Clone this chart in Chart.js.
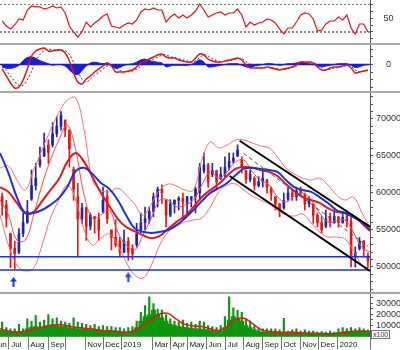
<!DOCTYPE html>
<html>
<head>
<meta charset="utf-8">
<script src="https://cdn.jsdelivr.net/npm/chart.js@4.4.1/dist/chart.umd.min.js"></script>
<style>
  html, body { margin: 0; padding: 0; background: #fff; }
  #wrap { position: relative; width: 400px; height: 350px; overflow: hidden; font-family: "Liberation Sans", Arial, sans-serif; }
  .panel { position: absolute; left: 0; }
  .sep { position: absolute; left: 0; width: 400px; height: 2px; background: #a8a8a8; }
  #unit { position: absolute; left: 371px; top: 330px; font-size: 7px; line-height: 7px; border: 1px solid #777; padding: 0 1px; color: #333; background: #fff; }
</style>
</head>
<body>
<div id="wrap">
  <canvas id="rsi-chart" class="panel" style="top:0px" width="400" height="43"></canvas>
  <div class="sep" style="top:43px"></div>
  <canvas id="macd-chart" class="panel" style="top:45px" width="400" height="46"></canvas>
  <div class="sep" style="top:91px"></div>
  <canvas id="price-chart" class="panel" style="top:93px" width="400" height="199"></canvas>
  <div class="sep" style="top:292px"></div>
  <canvas id="volume-chart" class="panel" style="top:294px" width="400" height="56"></canvas>
  <div id="unit">x100</div>
</div>
<script>
// one slot per week, Jun 2018 -> Feb 2020
const weekMin = 0;
const weekMax = 88;

const candleOpen = [59500, 58400, 54500, 52500, 52000, 54500, 56000, 59200, 61000, 63800,
  65000, 66500, 66500, 68000, 69000, 69800, 68500, 63200, 59500, 56500,
  58000, 55500, 56800, 56500, 57500, 59500, 55000, 54000, 53500, 52000,
  53500, 52500, 53000, 55000, 56000, 56500, 57500, 59500, 60500, 59000,
  57000, 58500, 59000, 59300, 58500, 59200, 59500, 60000, 63000, 63800,
  62500, 63000, 62000, 62500, 63500, 64300, 65000, 64500, 63000, 61800,
  62000, 61000, 61500, 61800, 60600, 59500, 58500, 58000, 59200, 60000,
  59500, 60500, 59800, 58500, 58500, 57000, 56000, 55500, 56800, 56000,
  56800, 56000, 56800, 56200, 51500, 52500, 53500, 51500];
const candleHigh = [60000, 59000, 54600, 53500, 55200, 57300, 59000, 63100, 64000, 66200,
  68100, 67200, 69500, 70300, 71000, 69900, 68500, 63500, 61300, 58600,
  58100, 57300, 56800, 57300, 60800, 60400, 55000, 56400, 54000, 55000,
  54000, 53000, 55900, 57300, 58100, 58100, 60000, 60800, 61100, 59100,
  59100, 59100, 59500, 60000, 59500, 59500, 60800, 64000, 65400, 64000,
  64000, 63100, 63500, 64900, 65400, 65400, 66500, 64900, 63100, 63100,
  62200, 62200, 63100, 61800, 60800, 59500, 58600, 60000, 60800, 60400,
  60800, 60800, 60000, 59500, 58600, 57300, 56800, 57700, 57300, 57700,
  56800, 57300, 57300, 56800, 52700, 54000, 53600, 51900];
const candleLow = [57000, 55400, 49900, 49700, 51800, 54100, 55900, 59000, 60400, 63500,
  64900, 64000, 66200, 67600, 68500, 67600, 63500, 59000, 51350, 55900,
  53600, 55000, 54600, 53600, 57300, 55900, 52300, 52700, 51350, 51900,
  50900, 51000, 52700, 54600, 55000, 55900, 56800, 58100, 58600, 55400,
  56800, 57300, 57700, 56800, 57300, 58100, 57300, 59000, 62700, 60800,
  62200, 60400, 61800, 62200, 63100, 64000, 64900, 62700, 61300, 61500,
  60400, 60800, 60800, 60000, 59000, 57700, 56800, 57800, 59000, 59000,
  59000, 59500, 57700, 58100, 55900, 55400, 54600, 55300, 55400, 55900,
  55400, 55900, 55400, 50000, 50000, 52300, 51350, 49900];
const candleClose = [58400, 56600, 52500, 51800, 54500, 56000, 57500, 61000, 62000, 64500,
  66000, 65500, 68000, 69000, 70500, 68500, 66000, 60500, 56500, 58000,
  55500, 57000, 56500, 55000, 59000, 56500, 54000, 53000, 52000, 53500,
  52000, 51800, 54500, 56000, 56500, 57500, 59500, 60500, 60000, 57000,
  58500, 59000, 59300, 58800, 59500, 59500, 60500, 63500, 63800, 61500,
  63000, 61500, 62500, 63500, 64300, 64700, 65800, 63500, 61800, 62500,
  61000, 61500, 62000, 60800, 60000, 58500, 57500, 59000, 60000, 59500,
  60300, 60000, 58500, 59000, 57000, 56000, 55000, 56500, 56000, 56800,
  56000, 56700, 56200, 51500, 52000, 53500, 52500, 50800];

// averages and bands, one value every two weeks
const maSlow = [65400, 62700, 59450, 57300, 57300, 57700, 58400, 59300, 60800, 62950,
  63400, 62550, 61350, 60550, 59050, 57000, 55250, 54750, 54600, 54750,
  55000, 55650, 56600, 57700, 58900, 60000, 60650, 61350, 62400, 63250,
  63400, 63250, 63100, 62850, 61750, 60800, 60400, 60150, 59450, 58650,
  57700, 57300, 56750, 56100, 55000];
const maMid = [60800, 60150, 58650, 57300, 57450, 58900, 60400, 61900, 64200, 65400,
  64200, 62150, 60000, 58250, 56500, 55400, 54850, 54300, 53900, 54200,
  55150, 56100, 56900, 58100, 59450, 60400, 61200, 62300, 63250, 63500,
  63400, 63100, 62850, 62300, 61200, 60250, 59450, 59050, 58650, 57950,
  57450, 57300, 56900, 55950, 54850];
const maFast = [59050, 57030, 53650, 53650, 57030, 61080, 64460, 67160, 69180, 65810,
  59730, 56620, 57030, 57700, 54730, 52970, 52300, 54320, 56620, 59050,
  59050, 58110, 58380, 59050, 61080, 62840, 62020, 62840, 64190, 64460,
  62840, 61750, 61080, 59460, 58780, 59590, 60000, 59050, 57300, 56080,
  56220, 56350, 54730, 52700, 52030];
const bandUpper = [63380, 63650, 61750, 60400, 63110, 65810, 68510, 70810, 72560, 72830,
  68510, 61750, 60400, 60130, 60670, 59730, 58500, 57000, 58500, 60400,
  61210, 60940, 60400, 60400, 64460, 66890, 66080, 66480, 67160, 67160,
  66750, 66350, 66080, 64860, 63380, 62560, 62020, 61750, 62020, 61080,
  59730, 59050, 59460, 57430, 55270];
const bandLower = [57030, 52970, 50270, 49460, 49870, 52970, 56620, 59050, 61080, 59050,
  55000, 52970, 53920, 54460, 52970, 50680, 48920, 48510, 50270, 52970,
  54730, 55540, 56080, 56350, 56620, 58110, 60130, 61080, 61210, 60400,
  59590, 59050, 58510, 57700, 57030, 56890, 57160, 55940, 54730, 54050,
  54050, 53780, 52300, 50270, 49330];

const supportLevels = [51390, 49600];
const channelUpper = [{ x: 57.0, y: 67060 }, { x: 88, y: 55450 }];
const channelLower = [{ x: 54.6, y: 62300 }, { x: 88, y: 49480 }];
const channelMid = [{ x: 57.9, y: 65360 }, { x: 87.6, y: 52740 }];
const arrowMarks = [{ x: 3.2, y: 47970 }, { x: 30.5, y: 48580 }];

const rsiValues = [46.0, 38.7, 34.4, 40.2, 48.9, 47.5, 62.0, 67.8, 66.4, 66.4,
  63.5, 64.9, 67.8, 64.9, 66.4, 57.6, 38.7, 30.0, 22.7, 30.0,
  44.5, 37.3, 43.1, 47.5, 53.3, 56.2, 38.7, 37.3, 35.8, 40.2,
  43.1, 41.6, 47.5, 59.1, 63.5, 62.0, 64.9, 62.0, 62.0, 44.5,
  51.8, 56.2, 50.4, 54.7, 50.4, 54.7, 60.5, 70.7, 62.0, 51.8,
  54.7, 57.6, 59.1, 54.7, 57.6, 57.6, 63.5, 54.7, 37.3, 44.5,
  40.2, 43.1, 44.5, 48.9, 47.5, 43.1, 34.4, 27.1, 35.8, 35.8,
  44.5, 54.7, 57.6, 56.2, 48.9, 31.5, 32.9, 41.6, 46.0, 46.0,
  51.8, 47.5, 54.7, 35.8, 27.1, 41.6, 41.6, 30.0];
const rsiBounds = [70, 30];

const macdLine = [-580, -1490, -2400, -3050, -2920, -2010, -580, 1100, 1750, 2010,
  2140, 1750, 1750, 1880, 1880, 1490, 450, -1100, -2270, -2530,
  -1880, -1490, -970, -580, -190, 190, -190, -970, -970, -970,
  -840, -710, -320, 190, 450, 710, 970, 1230, 1360, 970,
  840, 840, 580, 450, 320, 320, 840, 1360, 1230, 710,
  450, 320, 320, 450, 580, 710, 840, 580, -60, -450,
  -450, -450, -450, -320, -450, -580, -710, -580, -450, -320,
  -60, 320, 320, 320, 190, -320, -710, -710, -450, -320,
  -320, -190, -60, -450, -1100, -970, -840, -710];
const macdSignal = [-300, -800, -1500, -2200, -2700, -2700, -2000, -900, 500, 1300,
  1800, 2000, 1900, 1850, 1850, 1800, 1300, 300, -900, -1900,
  -2300, -1900, -1400, -1000, -600, -200, 0, -400, -800, -950,
  -950, -850, -600, -200, 200, 450, 700, 950, 1200, 1250,
  1000, 900, 750, 600, 450, 350, 450, 900, 1250, 1100,
  750, 500, 380, 400, 480, 600, 750, 750, 400, 0,
  -300, -400, -450, -400, -400, -500, -600, -650, -550, -420,
  -200, 100, 250, 300, 250, 0, -400, -650, -600, -450,
  -350, -250, -150, -250, -700, -950, -900, -800];
const macdHist = [-300, -500, -500, -400, -100, 500, 900, 1000, 800, 500,
  300, 100, -100, 0, 0, -200, -700, -1200, -1300, -800,
  -200, 200, 300, 200, 100, 200, -200, -500, -400, -100,
  0, 100, 300, 600, 700, 500, 400, 300, 200, -300,
  -200, -100, -100, -100, -100, 0, 300, 600, 300, -300,
  -300, -200, -100, 0, 100, 100, 100, -100, -300, -400,
  -200, -100, 0, 100, 100, 0, -100, 0, 100, 100,
  200, 300, 200, 100, 0, -200, -300, -200, -100, 0,
  100, 100, 100, -100, -400, -300, -100, 0];

const volumeBase = [5500, 5000, 4500, 4000, 4000, 4500, 7000, 8500, 9000, 8000,
  9000, 10000, 10500, 10000, 9500, 9000, 8000, 7500, 7000, 7000,
  6500, 6000, 6500, 6000, 5500, 5500, 5000, 5000, 4500, 4000,
  4000, 4500, 8000, 14000, 18000, 20000, 24000, 20000, 17000, 14000,
  11000, 10000, 9000, 8500, 8000, 7500, 7000, 7000, 6500, 6000,
  5500, 5000, 5000, 8000, 15000, 18000, 16000, 14000, 10000, 8000,
  6000, 5000, 4000, 4000, 3500, 4500, 3500, 3500, 3500, 3000,
  3000, 3000, 3000, 3000, 2500, 2500, 2500, 2500, 2500, 3000,
  3500, 4000, 4500, 4500, 4000, 4500, 4500, 3500];
const volumePeak = [13000, 8000, 7000, 7000, 11000, 7000, 16000, 14000, 19000, 13000,
  15000, 20000, 16000, 17000, 14000, 13000, 12000, 17000, 13000, 12000,
  11000, 10000, 11000, 9000, 10000, 9000, 9000, 8000, 8000, 7000,
  8000, 9000, 14000, 22000, 28000, 36000, 30000, 25000, 24000, 20000,
  16000, 14000, 13000, 15000, 12000, 13000, 11000, 14000, 13000, 10000,
  9000, 8000, 10000, 18000, 36000, 26000, 24000, 22000, 16000, 14000,
  10000, 8000, 7000, 7000, 7000, 7000, 6000, 16500, 5000, 6000,
  7000, 5000, 6000, 5000, 5000, 4000, 4500, 4000, 5000, 4000,
  7000, 8000, 7000, 8000, 7000, 8000, 7000, 6000];
const volumeMA = [7000, 5000, 4000, 4800, 6500, 8500, 10000, 10800, 9800, 8400,
  7600, 6800, 5500, 5200, 4500, 3800, 5500, 10000, 15500, 20500,
  21000, 15500, 11000, 9500, 9000, 7000, 5500, 9000, 15500, 16500,
  12000, 6500, 4500, 3900, 3800, 3800, 3200, 3000, 2800, 2500,
  2600, 3800, 4800, 5000, 4500];

const monthTicks = [-2.0, 2.14, 6.67, 11.43, 15.5, 20.24, 24.52, 28.81, 36.19, 40.48,
  44.52, 49.05, 53.57, 57.86, 62.38, 66.9, 71.43, 75.71, 80.24, 88];
const monthLabels = ["Jun", "Jul", "Aug", "Sep", "", "Nov", "Dec", "2019", "Mar", "Apr",
  "May", "Jun", "Jul", "Aug", "Sep", "Oct", "Nov", "Dec", "2020", ""];

const rsiTicks = [20, 30, 40, 50, 60, 70];
const macdTicks = [-3000, -2000, -1000, 0, 1000, 2000];
const volumeTicks = [5000, 10000, 15000, 20000, 25000, 30000, 35000];
const priceTicks = [];
for (let v = 47000; v <= 73000; v += 1000) priceTicks.push(v);

Chart.defaults.font.family = '"Liberation Sans", Arial, sans-serif';
Chart.defaults.font.size = 9;

const upColor = "#2424a8";
const downColor = "#e01818";
const green = "#0c960c";

const weekly = (arr) => arr.map((v, i) => ({ x: i + 0.5, y: v }));
const everyTwoWeeks = (arr) => arr.map((v, k) => ({ x: k * 2, y: v }));
const flat = (v) => [{ x: weekMin, y: v }, { x: weekMax, y: v }];

function lineSet(points, color, width, extra) {
  return Object.assign(
    { type: "line", data: points, borderColor: color, borderWidth: width, pointRadius: 0, fill: false, tension: 0 },
    extra || {}
  );
}

function rightAxis(min, max, tickValues, labelValues, pad) {
  return {
    position: "right",
    min: min,
    max: max,
    afterBuildTicks: (s) => { s.ticks = tickValues.map((v) => ({ value: v })); },
    afterFit: (s) => { s.width = 30; s.paddingTop = 0; s.paddingBottom = 0; },
    ticks: {
      autoSkip: false,
      crossAlign: "center",
      padding: pad,
      color: "#333",
      callback: (v) => (labelValues.includes(v) ? String(v) : ""),
    },
    grid: { drawOnChartArea: false, tickLength: 3, color: "#555" },
    border: { display: true, color: "#555" },
  };
}

function hiddenX() {
  return { type: "linear", min: weekMin, max: weekMax, display: false, offset: false };
}

function baseOptions(yAxis, xAxis) {
  return {
    responsive: false,
    animation: false,
    events: [],
    layout: { padding: 0, autoPadding: false },
    plugins: { legend: { display: false }, tooltip: { enabled: false } },
    scales: { x: xAxis || hiddenX(), y: yAxis },
  };
}

// RSI
new Chart(document.getElementById("rsi-chart"), {
  type: "line",
  data: {
    datasets: [
      lineSet(weekly(rsiValues), "#e41414", 1.2, { order: 0 }),
      lineSet(flat(rsiBounds[0]), "#777", 1, { borderDash: [2, 2], order: 1 }),
      lineSet(flat(rsiBounds[1]), "#222", 1, { borderDash: [2, 2], order: 1 }),
    ],
  },
  options: baseOptions(rightAxis(14, 76.5, rsiTicks, [50], 10.5)),
});

// MACD
new Chart(document.getElementById("macd-chart"), {
  type: "line",
  data: {
    datasets: [
      lineSet(weekly(macdLine), "#e41414", 1.5, { tension: 0.3, order: 0 }),
      lineSet(weekly(macdSignal), "#333", 1, { borderDash: [2, 2], tension: 0.3, order: 1 }),
      lineSet(flat(0), "#1a1ae6", 1.5, { order: 2 }),
      lineSet(weekly(macdHist), "#1a1ae6", 1, { fill: "origin", backgroundColor: "#1a1ae6", tension: 0.3, order: 3 }),
    ],
  },
  options: baseOptions(rightAxis(-3440, 2530, macdTicks, [0], 13)),
});

// price
const candleColors = candleClose.map((c, i) => (c >= candleOpen[i] ? upColor : downColor));

const arrowIcon = document.createElement("canvas");
arrowIcon.width = 7;
arrowIcon.height = 10;
const arrowCtx = arrowIcon.getContext("2d");
arrowCtx.fillStyle = "#1a3ce6";
arrowCtx.beginPath();
arrowCtx.moveTo(3.5, 0);
arrowCtx.lineTo(7, 4.5);
arrowCtx.lineTo(0, 4.5);
arrowCtx.closePath();
arrowCtx.fill();
arrowCtx.fillRect(2.5, 4, 2, 6);

new Chart(document.getElementById("price-chart"), {
  type: "line",
  data: {
    datasets: [
      lineSet(channelUpper, "#000", 2, { order: 0 }),
      lineSet(channelLower, "#000", 2, { order: 0 }),
      lineSet(channelMid, "#555", 1, { borderDash: [4, 3], order: 0 }),
      lineSet(flat(supportLevels[0]), "#1a32e6", 1.5, { order: 0 }),
      lineSet(flat(supportLevels[1]), "#1a32e6", 1.5, { order: 0 }),
      lineSet(arrowMarks, "#1a3ce6", 0, { showLine: false, pointStyle: arrowIcon, pointRadius: 4, order: 0, clip: false }),
      lineSet(everyTwoWeeks(maSlow), "#1a32e6", 2, { tension: 0.4, order: 1 }),
      lineSet(everyTwoWeeks(maMid), "#e8141e", 2, { tension: 0.4, order: 1 }),
      lineSet(everyTwoWeeks(maFast), "#ff4a4a", 1, { tension: 0.4, order: 2 }),
      lineSet(everyTwoWeeks(bandUpper), "#ff6e6e", 1, { tension: 0.4, order: 2 }),
      lineSet(everyTwoWeeks(bandLower), "#ff6e6e", 1, { tension: 0.4, order: 2 }),
      {
        type: "bar",
        data: candleHigh.map((h, i) => ({ x: i + 0.5, y: [candleLow[i], h] })),
        backgroundColor: candleColors,
        barThickness: 1,
        grouped: false,
        order: 3,
      },
      {
        type: "bar",
        data: candleOpen.map((o, i) => ({ x: i + 0.5, y: [o, candleClose[i]] })),
        backgroundColor: candleColors,
        barThickness: 2,
        grouped: false,
        order: 3,
      },
    ],
  },
  options: baseOptions(rightAxis(46620, 73510, priceTicks, [50000, 55000, 60000, 65000, 70000], 3)),
});

// volume + month axis
const volumeX = {
  type: "linear",
  min: weekMin,
  max: weekMax,
  position: "bottom",
  offset: false,
  afterBuildTicks: (s) => { s.ticks = monthTicks.map((v) => ({ value: v })); },
  afterFit: (s) => { s.height = 13.5; s.paddingLeft = 0; s.paddingRight = 0; },
  ticks: {
    autoSkip: false,
    maxRotation: 0,
    minRotation: 0,
    align: "start",
    padding: -10,
    color: "#222",
    font: { size: 8 },
    callback: (v, i) => " " + monthLabels[i],
  },
  grid: { drawOnChartArea: false, offset: false, tickLength: 13, color: "#777" },
  border: { display: true, color: "#9a9a9a" },
};

new Chart(document.getElementById("volume-chart"), {
  type: "line",
  data: {
    datasets: [
      lineSet(everyTwoWeeks(volumeMA), "#e81414", 1.5, { tension: 0.4, order: 0 }),
      {
        type: "bar",
        data: weekly(volumePeak),
        backgroundColor: green,
        barThickness: 1.5,
        grouped: false,
        order: 1,
      },
      {
        type: "bar",
        data: weekly(volumeBase),
        backgroundColor: green,
        barPercentage: 1,
        categoryPercentage: 1,
        grouped: false,
        order: 1,
      },
    ],
  },
  options: baseOptions(rightAxis(0, 38600, volumeTicks, [10000, 20000, 30000], 3), volumeX),
});
</script>
</body>
</html>
